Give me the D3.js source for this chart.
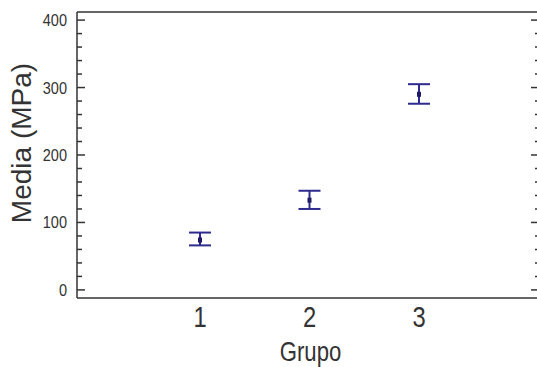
<!DOCTYPE html>
<html>
<head>
<meta charset="utf-8">
<script src="https://cdn.jsdelivr.net/npm/d3@7"></script>
<style>
  body { margin: 0; background: #fff; }
  svg { display: block; }
  .tick-y { font-family: "Liberation Sans", Arial, sans-serif; font-size: 16.5px; fill: #333; }
  .tick-x { font-family: "Liberation Sans", Arial, sans-serif; font-size: 29px; fill: #333; }
  .axis-label-x { font-family: "Liberation Sans", Arial, sans-serif; font-size: 27px; fill: #333; }
  .axis-label-y { font-family: "Liberation Sans", Arial, sans-serif; font-size: 28px; fill: #333; }
</style>
</head>
<body>
<svg id="chart"></svg>
<script>
// --- DATA ---
const groups = [1, 2, 3];
const means = [74, 133, 290];
const lower = [66, 120, 276];
const upper = [85, 147, 305];
const yTicks = [0, 100, 200, 300, 400];
const yMinorTicks = d3.range(0, 401, 20);

// --- SETUP ---
const W = 537, H = 367;
const frame = { left: 77, right: 539, top: 12, bottom: 298 };
const narrow = 0.82; // horizontal squeeze, no narrow font installed

const svg = d3.select("#chart").attr("width", W).attr("height", H);

const x = d3.scaleLinear().domain([1, 3]).range([200, 419]);
const y = d3.scaleLinear().domain([-12, 412]).range([frame.bottom, frame.top]);

const axisColor = "#333";
const barColor = "#2e2a8e";

// frame lines
const frameLines = [
    [frame.left, frame.top, frame.right, frame.top],
    [frame.left, frame.bottom, frame.right, frame.bottom],
    [frame.left, frame.top, frame.left, frame.bottom],
    [frame.right, frame.top, frame.right, frame.bottom]
];
svg.append("g").selectAll("line")
    .data(frameLines)
    .join("line")
    .attr("x1", d => d[0]).attr("y1", d => d[1])
    .attr("x2", d => d[2]).attr("y2", d => d[3])
    .attr("stroke", axisColor).attr("stroke-width", 1.5);

// y ticks, inward on both sides
const isMajor = v => v % 100 === 0;
svg.append("g").selectAll("line")
    .data(yMinorTicks)
    .join("line")
    .attr("x1", frame.left)
    .attr("x2", d => frame.left + (isMajor(d) ? 8 : 5))
    .attr("y1", d => y(d)).attr("y2", d => y(d))
    .attr("stroke", axisColor).attr("stroke-width", 1.5);
svg.append("g").selectAll("line")
    .data(yMinorTicks)
    .join("line")
    .attr("x1", frame.right)
    .attr("x2", d => frame.right - (isMajor(d) ? 8 : 4))
    .attr("y1", d => y(d)).attr("y2", d => y(d))
    .attr("stroke", axisColor).attr("stroke-width", 1.5);

svg.append("g").selectAll("text")
    .data(yTicks)
    .join("text")
    .attr("class", "tick-y")
    .attr("transform", d => `translate(67,${y(d)}) scale(0.88,1)`)
    .attr("dy", "0.36em")
    .attr("text-anchor", "end")
    .text(d => d);

// x tick labels (condensed look)
svg.append("g").selectAll("text")
    .data(groups)
    .join("text")
    .attr("class", "tick-x")
    .attr("transform", d => `translate(${x(d)},327) scale(${narrow},1)`)
    .attr("text-anchor", "middle")
    .text(d => d);

// axis labels
svg.append("text")
    .attr("class", "axis-label-x")
    .attr("transform", `translate(${x(2) + 1},361) scale(${narrow},1)`)
    .attr("text-anchor", "middle")
    .text("Grupo");

svg.append("text")
    .attr("class", "axis-label-y")
    .attr("transform", `translate(31,${(frame.top + frame.bottom) / 2 - 12}) rotate(-90)`)
    .attr("text-anchor", "middle")
    .text("Media (MPa)");

// error bars
const bars = svg.append("g").selectAll("g")
    .data(groups.map((g, i) => ({ g, mean: means[i], lo: lower[i], hi: upper[i] })))
    .join("g");

bars.append("line")
    .attr("x1", d => x(d.g)).attr("x2", d => x(d.g))
    .attr("y1", d => y(d.hi)).attr("y2", d => y(d.lo))
    .attr("stroke", barColor).attr("stroke-width", 2);
bars.append("line")
    .attr("x1", d => x(d.g) - 11).attr("x2", d => x(d.g) + 11)
    .attr("y1", d => y(d.hi)).attr("y2", d => y(d.hi))
    .attr("stroke", barColor).attr("stroke-width", 2);
bars.append("line")
    .attr("x1", d => x(d.g) - 11).attr("x2", d => x(d.g) + 11)
    .attr("y1", d => y(d.lo)).attr("y2", d => y(d.lo))
    .attr("stroke", barColor).attr("stroke-width", 2);
bars.append("rect")
    .attr("x", d => x(d.g) - 2).attr("y", d => y(d.mean) - 2.5)
    .attr("width", 4).attr("height", 5)
    .attr("fill", "#1f1a66");
</script>
</body>
</html>
